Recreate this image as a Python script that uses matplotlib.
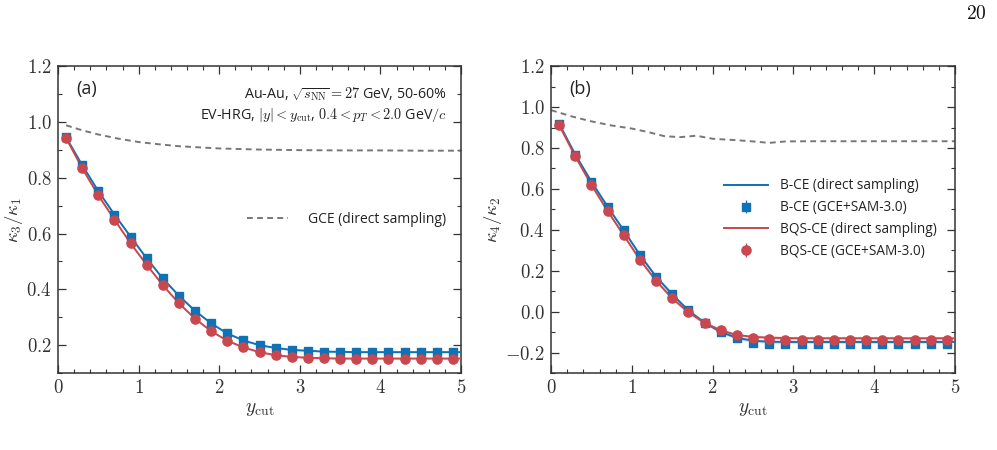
import matplotlib
matplotlib.use("Agg")
import matplotlib.pyplot as plt
from matplotlib.lines import Line2D
from matplotlib.ticker import MultipleLocator, FuncFormatter
import numpy as np

plt.rcParams["mathtext.fontset"] = "cm"
plt.rcParams["font.family"] = ["Open Sans", "DejaVu Sans"]

# ── Data ───────────────────────────────────────────────────────────────────────
ycut = [0.1, 0.3, 0.5, 0.7, 0.9, 1.1, 1.3, 1.5, 1.7, 1.9, 2.1, 2.3, 2.5,
        2.7, 2.9, 3.1, 3.3, 3.5, 3.7, 3.9, 4.1, 4.3, 4.5, 4.7, 4.9]

# panel (a): kappa3/kappa1
a_bce = [0.945, 0.845, 0.752, 0.668, 0.589, 0.511, 0.439, 0.377, 0.323, 0.278,
         0.242, 0.217, 0.200, 0.190, 0.183, 0.180, 0.177, 0.176, 0.175, 0.175,
         0.175, 0.175, 0.175, 0.175, 0.175]
a_bqs = [0.942, 0.834, 0.737, 0.650, 0.565, 0.488, 0.415, 0.350, 0.295, 0.250,
         0.216, 0.192, 0.175, 0.164, 0.158, 0.155, 0.153, 0.152, 0.152, 0.152,
         0.152, 0.152, 0.152, 0.152, 0.152]
a_bce_err = [0.004] * 25
a_bqs_err = [0.004] * 25
a_gce_x = [0.1, 0.3, 0.5, 0.75, 1.0, 1.25, 1.5, 1.75, 2.0, 2.5, 3.0, 3.5, 4.0, 4.5, 5.0]
a_gce = [0.988, 0.970, 0.955, 0.940, 0.928, 0.920, 0.913, 0.909, 0.905,
         0.901, 0.899, 0.898, 0.898, 0.897, 0.897]

# panel (b): kappa4/kappa2
b_bce = [0.918, 0.768, 0.635, 0.513, 0.397, 0.277, 0.171, 0.085, 0.006, -0.054,
         -0.099, -0.130, -0.151, -0.160, -0.160, -0.160, -0.160, -0.160, -0.160,
         -0.160, -0.160, -0.160, -0.160, -0.160, -0.160]
b_bqs = [0.912, 0.759, 0.619, 0.492, 0.373, 0.254, 0.151, 0.065, -0.003, -0.055,
         -0.091, -0.116, -0.129, -0.135, -0.138, -0.140, -0.140, -0.140, -0.140,
         -0.140, -0.140, -0.140, -0.140, -0.140, -0.140]
b_bce_line = [0.918, 0.768, 0.635, 0.513, 0.397, 0.277, 0.171, 0.085, 0.006, -0.054,
              -0.099, -0.128, -0.142, -0.147, -0.148, -0.148, -0.148, -0.148, -0.148,
              -0.148, -0.148, -0.148, -0.148, -0.148, -0.148]
b_bqs_line = [0.912, 0.759, 0.619, 0.492, 0.373, 0.254, 0.151, 0.065, -0.003, -0.055,
              -0.091, -0.114, -0.123, -0.127, -0.129, -0.130, -0.130, -0.130, -0.130,
              -0.130, -0.130, -0.130, -0.130, -0.130, -0.130]
b_bce_err = [0.008] * 25
b_bqs_err = [0.010] * 25
b_gce_x = [0.0, 0.25, 0.5, 0.75, 1.0, 1.2, 1.4, 1.6, 1.8, 2.0, 2.3, 2.5, 2.7, 2.9, 3.2, 4.0, 5.0]
b_gce = [0.985, 0.955, 0.930, 0.910, 0.895, 0.878, 0.858, 0.853, 0.860, 0.845,
         0.838, 0.832, 0.825, 0.832, 0.833, 0.833, 0.833]

# ── Style ──────────────────────────────────────────────────────────────────────
C_BLUE = "#0F71B6"
C_RED = "#C9474F"
C_GRAY = "#777777"
C_TEXT = "#222222"

fig = plt.figure(figsize=(9.97, 4.5), dpi=100)
ax_a = fig.add_axes([0.0582, 0.171, 0.4042, 0.682])
ax_b = fig.add_axes([0.5527, 0.171, 0.4052, 0.682])


def fmt_x(v, p):
    return "$%d$" % round(v)


def fmt_y(v, p):
    if abs(v) < 1e-9:
        v = 0.0
    return "$%.1f$" % v


def style(ax, ylo, yhi, ylabel):
    ax.set_xlim(0, 5)
    ax.set_ylim(ylo, yhi)
    ax.xaxis.set_major_locator(MultipleLocator(1))
    ax.xaxis.set_minor_locator(MultipleLocator(0.2))
    ax.yaxis.set_major_locator(MultipleLocator(0.2))
    ax.yaxis.set_minor_locator(MultipleLocator(0.1))
    ax.xaxis.set_major_formatter(FuncFormatter(fmt_x))
    ax.yaxis.set_major_formatter(FuncFormatter(fmt_y))
    ax.tick_params(which="both", direction="in", top=True, right=True,
                   colors="#333333", labelsize=13.5, pad=4.5)
    ax.tick_params(which="major", length=6, width=0.9)
    ax.tick_params(which="minor", length=3, width=0.8)
    for s in ax.spines.values():
        s.set_color("#333333")
        s.set_linewidth(1.1)
    ax.set_xlabel(r"$y_{\rm cut}$", fontsize=14, color="#333333", labelpad=2)
    ax.set_ylabel(ylabel, fontsize=13.5, color="#333333", labelpad=1)


def draw(ax, line_b, line_r, pts_b, pts_r, err_b, err_r, gx, gy, band):
    ax.plot(gx, gy, ls=(0, (3, 2.2)), color=C_GRAY, lw=1.4, zorder=2)
    lb = np.array(line_b)
    lr = np.array(line_r)
    ax.fill_between(ycut, lb - band, lb + band, color=C_BLUE, alpha=0.2, lw=0, zorder=2)
    ax.fill_between(ycut, lr - band, lr + band, color=C_RED, alpha=0.2, lw=0, zorder=2)
    ax.plot(ycut + [5.0], line_b + [line_b[-1]], color=C_BLUE, lw=1.4, zorder=3)
    ax.plot(ycut + [5.0], line_r + [line_r[-1]], color=C_RED, lw=1.4, zorder=3)
    ax.errorbar(ycut, pts_b, yerr=err_b, fmt="s", color=C_BLUE, ms=6.3,
                capsize=2, elinewidth=0.9, capthick=0.9, zorder=4)
    ax.errorbar(ycut, pts_r, yerr=err_r, fmt="o", color=C_RED, ms=6.6,
                capsize=2, elinewidth=0.9, capthick=0.9, zorder=5)


# ── Panel (a) ──────────────────────────────────────────────────────────────────
draw(ax_a, a_bce, a_bqs, a_bce, a_bqs, a_bce_err, a_bqs_err, a_gce_x, a_gce, 0.003)
style(ax_a, 0.1, 1.2, r"$\kappa_3/\kappa_1$")
ax_a.text(0.045, 0.955, "(a)", transform=ax_a.transAxes, fontsize=13,
          va="top", ha="left", color=C_TEXT)
ax_a.text(0.965, 0.905, r"Au-Au, $\sqrt{s_{\rm NN}}=27$ GeV, 50-60%",
          transform=ax_a.transAxes, fontsize=10.3, ha="right", va="center", color=C_TEXT)
ax_a.text(0.965, 0.84, r"EV-HRG, $|y|<y_{\rm cut}$, $0.4<p_T<2.0$ GeV$/c$",
          transform=ax_a.transAxes, fontsize=10.3, ha="right", va="center", color=C_TEXT)
gce_handle = Line2D([], [], ls=(0, (3, 2.2)), color=C_GRAY, lw=1.4)
leg_a = ax_a.legend([gce_handle], ["GCE (direct sampling)"], loc="center right",
                    bbox_to_anchor=(0.995, 0.5), frameon=False, fontsize=10,
                    handlelength=2.9, handletextpad=1.5)
for t in leg_a.get_texts():
    t.set_color(C_TEXT)

# ── Panel (b) ──────────────────────────────────────────────────────────────────
draw(ax_b, b_bce_line, b_bqs_line, b_bce, b_bqs, b_bce_err, b_bqs_err, b_gce_x, b_gce, 0.008)
style(ax_b, -0.3, 1.2, r"$\kappa_4/\kappa_2$")
ax_b.text(0.045, 0.955, "(b)", transform=ax_b.transAxes, fontsize=13,
          va="top", ha="left", color=C_TEXT)
h1 = Line2D([], [], color=C_BLUE, lw=1.4)
h2 = ax_b.errorbar([], [], yerr=[], fmt="s", color=C_BLUE, ms=6.3, capsize=2, elinewidth=0.9)
h3 = Line2D([], [], color=C_RED, lw=1.4)
h4 = ax_b.errorbar([], [], yerr=[], fmt="o", color=C_RED, ms=6.6, capsize=2, elinewidth=0.9)
leg_b = ax_b.legend([h1, h2, h3, h4],
                    ["B-CE (direct sampling)", "B-CE (GCE+SAM-3.0)",
                     "BQS-CE (direct sampling)", "BQS-CE (GCE+SAM-3.0)"],
                    loc="center right", bbox_to_anchor=(0.985, 0.503), frameon=False,
                    fontsize=9.8, handlelength=3.2, handletextpad=0.9, labelspacing=0.5)
for t in leg_b.get_texts():
    t.set_color(C_TEXT)

fig.text(0.99, 0.968, "$20$", fontsize=14, ha="right", va="center", color="#111111")

fig.savefig("out.png", dpi=100, facecolor="white")
